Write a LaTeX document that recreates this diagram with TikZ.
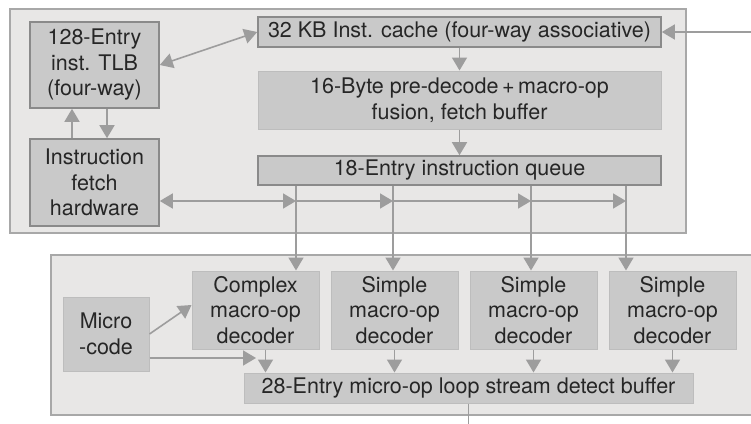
\documentclass[tikz,border=0pt]{standalone}
\usepackage{fontspec}
\setmainfont{TeX Gyre Heros}
\usetikzlibrary{positioning,arrows.meta}

\definecolor{panelfill}{HTML}{E8E7E6}
\definecolor{paneledge}{HTML}{A8A8A8}
\definecolor{boxfill}{HTML}{C9C9C9}
\definecolor{boxedge}{HTML}{8A8A8A}
\definecolor{softedge}{HTML}{BDBDBD}
\definecolor{linkgray}{HTML}{9D9D9D}
\definecolor{inkgray}{HTML}{262626}

\begin{document}
\begin{tikzpicture}[x=1pt,y=-1pt,
    font=\fontsize{21.5}{25.5}\selectfont,text=inkgray,
    panel/.style={fill=panelfill,draw=paneledge,line width=1.5pt},
    unit/.style={fill=boxfill,draw=softedge,line width=1pt,align=center,inner sep=0pt},
    hard/.style={unit,draw=boxedge,line width=1.6pt},
    dec/.style={unit,minimum width=127pt,minimum height=78pt},
    plain/.style={draw=linkgray,line width=1.6pt},
    link/.style={plain,-{Triangle[length=13pt,width=15pt]}},
    twoway/.style={plain,{Triangle[length=13pt,width=15pt]}-{Triangle[length=13pt,width=15pt]}}]
    \useasboundingbox (0,0) rectangle (751,423);

    % front end and decode panels
    \draw[panel] (10,9) rectangle (686,233);
    \fill[panelfill] (51,255) rectangle (751,415);
    \draw[paneledge,line width=1.5pt] (751,255) -- (51,255) -- (51,415) -- (751,415);

    \node[hard,minimum width=129pt,minimum height=86pt] (tlb) at (94.5,65) {128-Entry\\inst. TLB\\(four-way)};
    \node[hard,minimum width=129pt,minimum height=87pt] (fetch) at (94.5,182.5) {Instruction\\fetch\\hardware};
    \node[hard,minimum width=403pt,minimum height=30pt] (cache) at (459.5,32) {32 KB Inst. cache (four-way associative)};
    \node[unit,minimum width=403pt,minimum height=58pt] (predec) at (459.5,100) {16-Byte pre-decode\,+\,macro-op\\fusion, fetch buffer};
    \node[hard,minimum width=403pt,minimum height=29pt] (queue) at (459.5,170.5) {18-Entry instruction queue};

    \node[unit,minimum width=86pt,minimum height=74pt] (micro) at (106,334) {Micro\\-code};
    \node[dec] (complex) at (255.5,310) {Complex\\macro-op\\decoder};
    \node[dec] (simple1) [right=11pt of complex] {Simple\\macro-op\\decoder};
    \node[dec] (simple2) [right=11pt of simple1] {Simple\\macro-op\\decoder};
    \node[dec] (simple3) [right=11pt of simple2] {Simple\\macro-op\\decoder};
    \node[unit,minimum width=449pt,minimum height=30pt] (buffer) at (468.5,388) {28-Entry micro-op loop stream detect buffer};

    % taps on the fetch bus
    \coordinate (t1) at (296,201);
    \coordinate (t2) at (393,201);
    \coordinate (t3) at (531,201);
    \coordinate (t4) at (626,201);
    \coordinate (ext) at (760,32);
    \coordinate (mjoin) at (256,358);
    \coordinate (cdrop) at ([xshift=10pt]complex.south);
    \coordinate (bufout) at (468.5,430);

    \draw[link] (ext) -- (cache.east);
    \draw[twoway] (tlb.east) -- (cache.west);
    \draw[link] (cache.south) -- (predec.north);
    \draw[link] (predec.south) -- (queue.north);
    \draw[link] ([xshift=12.5pt]tlb.south) -- ([xshift=12.5pt]fetch.north);
    \draw[link] ([xshift=-22.5pt]fetch.north) -- ([xshift=-22.5pt]tlb.south);

    \draw[twoway] (fetch.east |- t1) -- (t1);
    \draw[link] (t1) -- (t2);
    \draw[link] (t2) -- (t3);
    \draw[link] (t3) -- (t4);
    \draw[link] (queue.south -| t1) -- (complex.north -| t1);
    \draw[link] (queue.south -| t2) -- (simple1.north -| t2);
    \draw[link] (queue.south -| t3) -- (simple2.north -| t3);
    \draw[link] (queue.south -| t4) -- (simple3.north -| t4);

    \draw[link] (micro.east) -- ([yshift=5pt]complex.west);
    \draw[link] (micro.east |- mjoin) -- (mjoin);
    \draw[link] (cdrop) -- (buffer.north -| cdrop);
    \foreach \d in {simple1,simple2,simple3}
        \draw[link] (\d.south) -- (buffer.north -| \d.south);
    \draw[plain] (buffer.south) -- (bufout);
\end{tikzpicture}
\end{document}
